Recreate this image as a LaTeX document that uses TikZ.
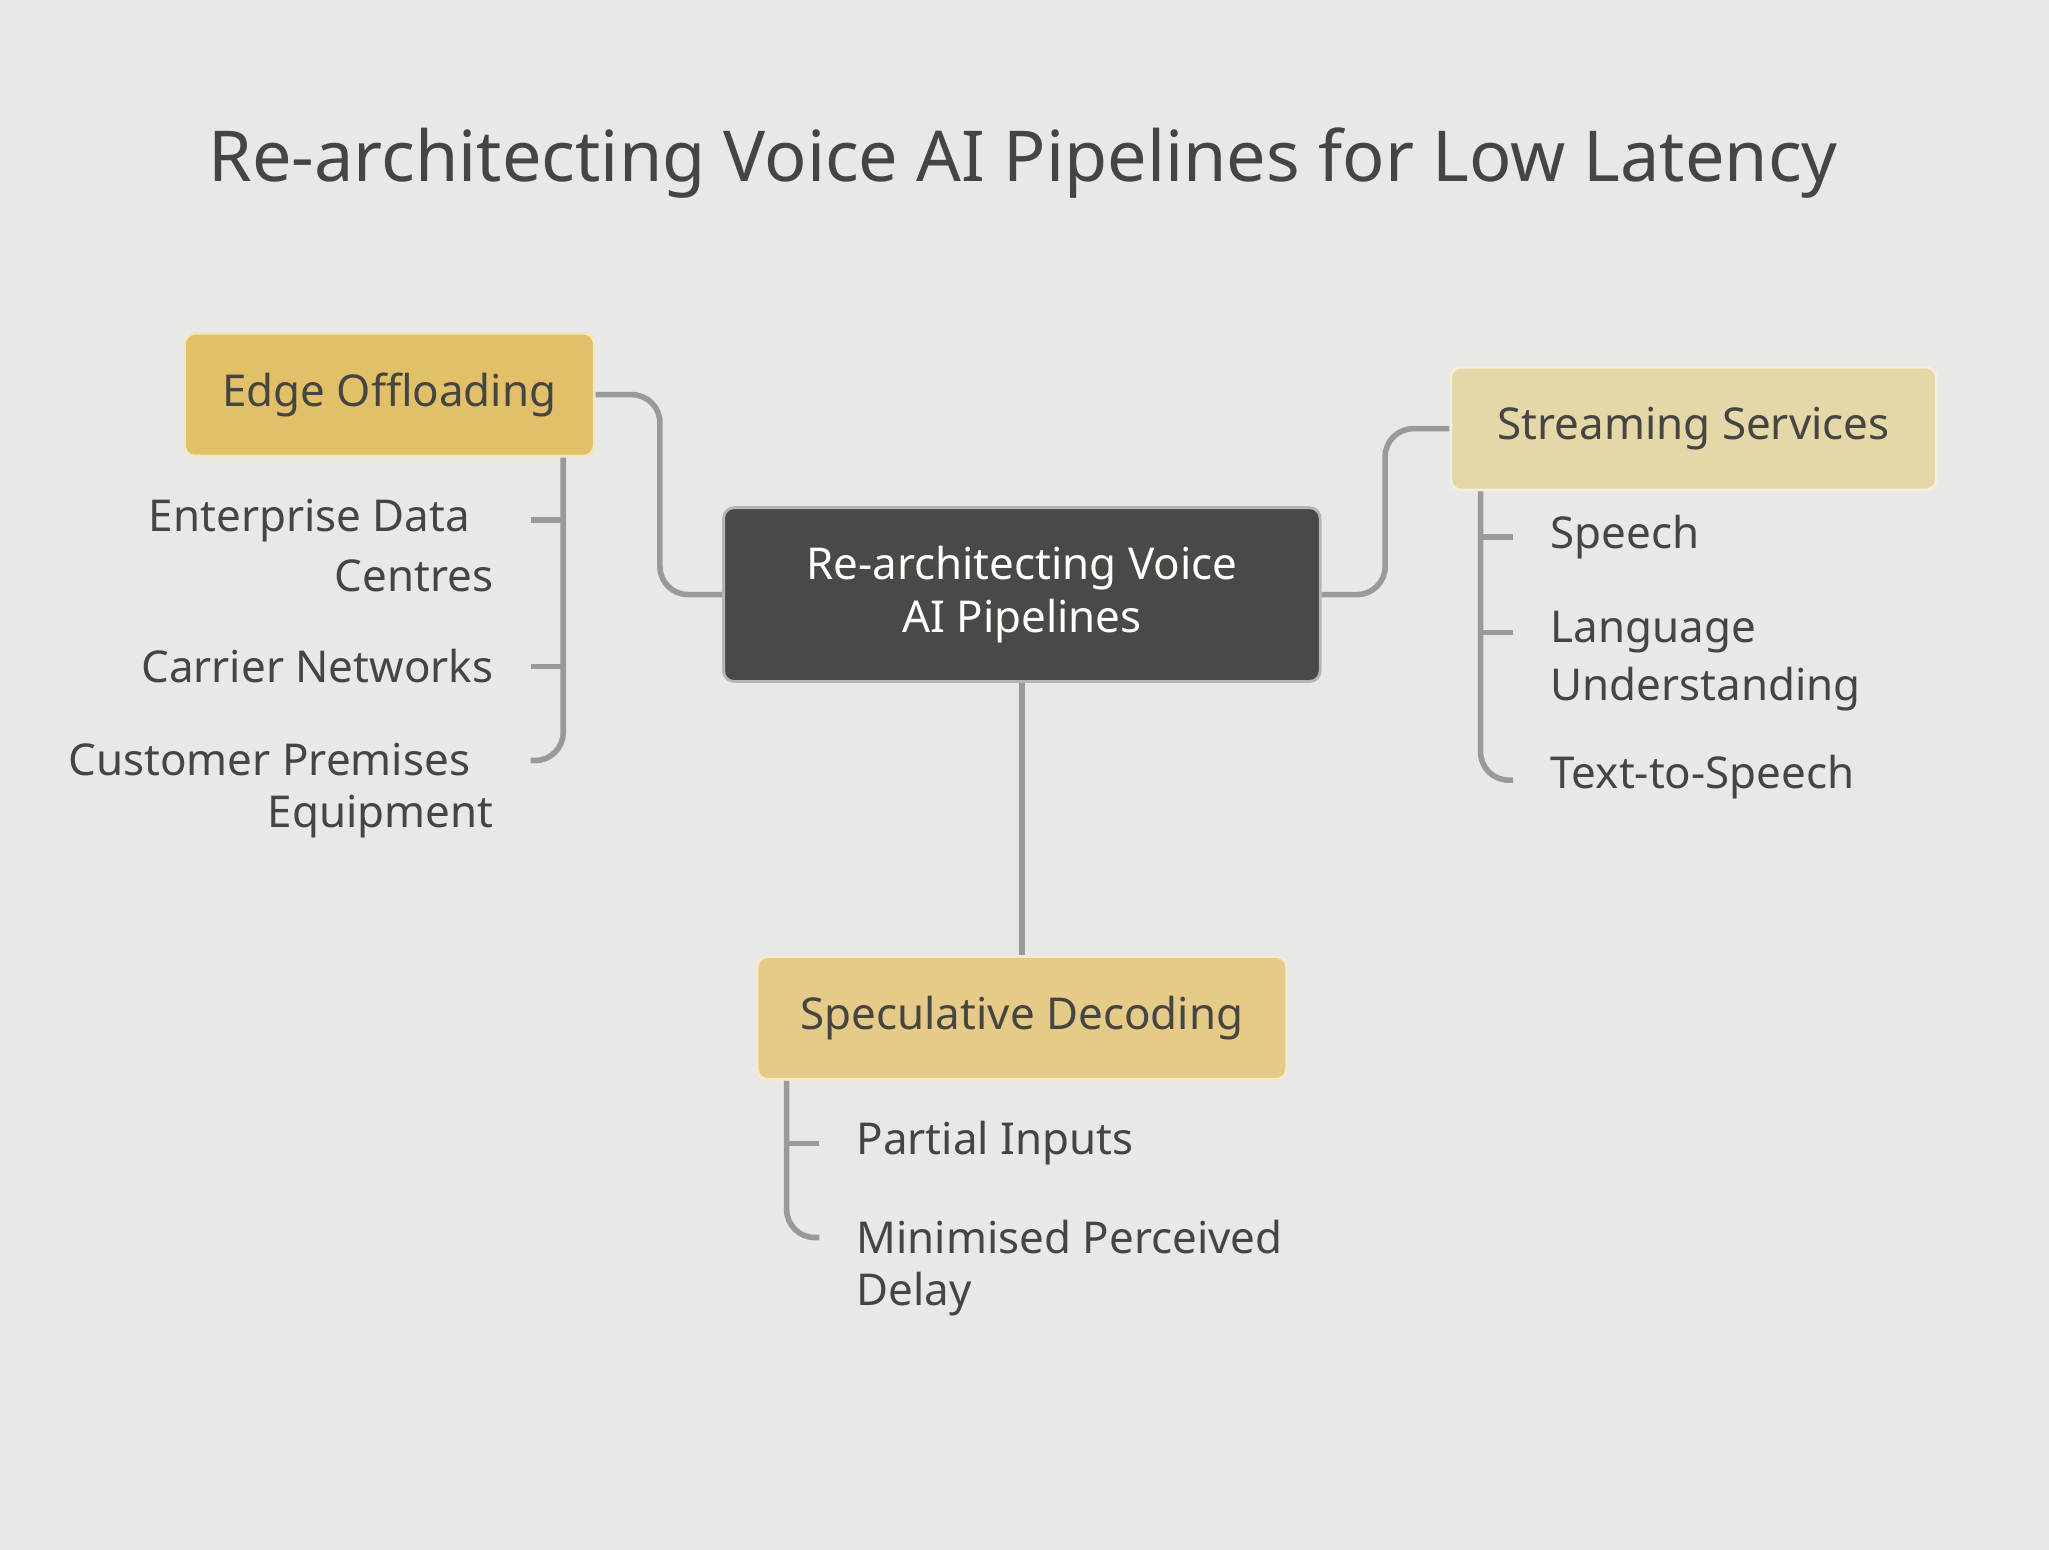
\documentclass[tikz,border=0pt]{standalone}
\usepackage{fontspec}
\setmainfont{Noto Sans}
\usetikzlibrary{positioning,calc}
\definecolor{bgc}{HTML}{E8E8E6}
\definecolor{inkc}{HTML}{454642}
\definecolor{darkc}{HTML}{494A46}
\definecolor{goldA}{HTML}{E2C068}
\definecolor{goldB}{HTML}{E4D7A8}
\definecolor{goldC}{HTML}{E5CA88}
\definecolor{linec}{HTML}{9A9A98}
\begin{document}
\begin{tikzpicture}[x=0.01307cm,y=-0.01307cm,
    topic/.style={rectangle,rounded corners=3pt,draw=white!60!#1,line width=0.8pt,fill=#1,
                  text=inkc,font=\fontsize{12.5}{15}\selectfont\bfseries,inner sep=0pt},
    leaf/.style={text=inkc,font=\fontsize{12.5}{16}\selectfont,inner sep=0pt},
    link/.style={draw=linec,line width=1.6pt,rounded corners=8pt}
   ]
   \fill[bgc] (0,0) rectangle (1568,1186);
   \node[text=inkc,font=\fontsize{20}{24}\selectfont\bfseries] (title) at (783,125) {Re-architecting Voice AI Pipelines for Low Latency};
   % main boxes
   \node[topic=darkc,text=white,minimum width=457\pgflinewidth,align=center,
         minimum width=5.97cm,minimum height=1.74cm] (core) at (782,455) {Re-architecting Voice\\AI Pipelines};
   \node[topic=goldA,minimum width=4.1cm,minimum height=1.23cm] (edge) at (298,302) {Edge Offloading};
   \node[topic=goldB,minimum width=4.86cm,minimum height=1.23cm] (stream) at (1296,328) {Streaming Services};
   \node[topic=goldC,minimum width=5.3cm,minimum height=1.23cm] (spec) at (782,779) {Speculative Decoding};
   % leaves
   \node[leaf,anchor=east] (ent) at (378,398) {Enterprise Data\phantom{x}};
   \node[leaf,anchor=east] (ent2) at (378,441) {Centres};
   \node[leaf,anchor=east] (car) at (378,510) {Carrier Networks};
   \node[leaf,anchor=east] (cus) at (378,581) {Customer Premises\phantom{x}};
   \node[leaf,anchor=east] (cus2) at (378,625) {Equipment};
   \node[leaf,anchor=west] (sp) at (1186,411) {Speech};
   \node[leaf,anchor=west] (lang) at (1186,484) {Language};
   \node[leaf,anchor=west] (lang2) at (1186,527) {Understanding};
   \node[leaf,anchor=west] (tts) at (1186,595) {Text-to-Speech};
   \node[leaf,anchor=west] (part) at (655,875) {Partial Inputs};
   \node[leaf,anchor=west] (mini) at (655,947) {Minimised Perceived};
   \node[leaf,anchor=west] (mini2) at (655,990) {Delay};
   % connectors
   \draw[link] (edge.east) -| (505,380) |- (core.west);
   \draw[link] (core.east) -| (1060,380) |- (stream.west);
   \draw[link,rounded corners=0pt] (core.south) -- (spec.north);
   \draw[link] (edge.south -| 431,0) |- (406,582);
   \draw[link] (431,398) -- (406,398);
   \draw[link] (431,510) -- (406,510);
   \draw[link] (stream.south -| 1133,0) |- (1158,597);
   \draw[link] (1133,411) -- (1158,411);
   \draw[link] (1133,484) -- (1158,484);
   \draw[link] (spec.south -| 602,0) |- (627,947);
   \draw[link] (602,875) -- (627,875);
\end{tikzpicture}
\end{document}
